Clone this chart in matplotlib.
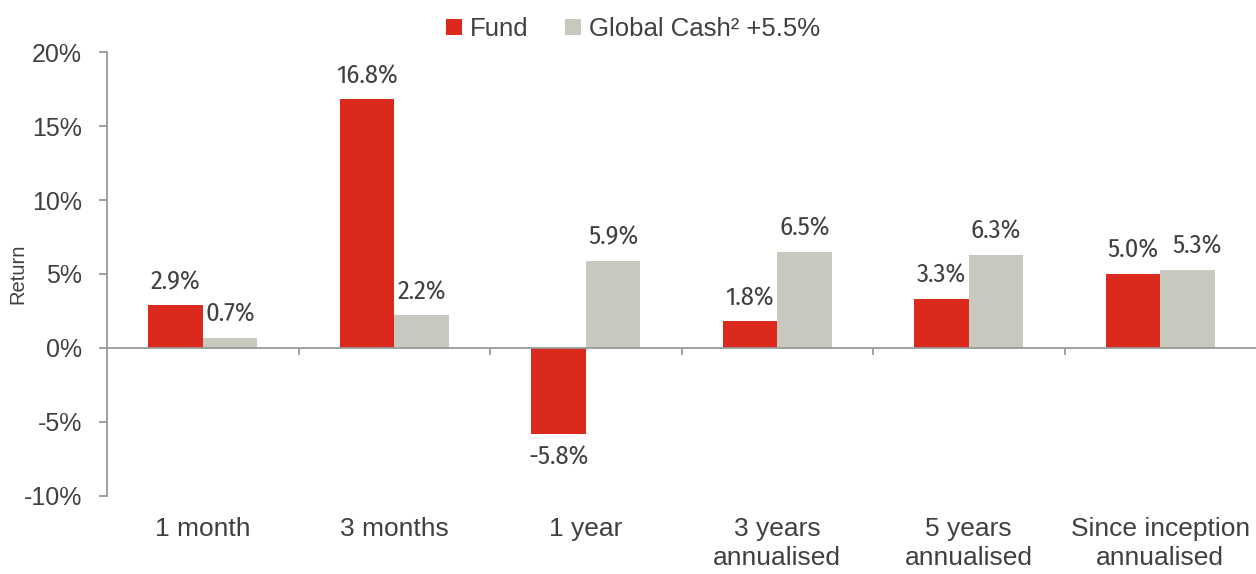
import matplotlib.pyplot as plt
import numpy as np
from matplotlib.ticker import FuncFormatter, FixedLocator

plt.rcParams['font.family'] = ['Liberation Sans', 'DejaVu Sans']

# data
periods = ["1 month", "3 months", "1 year", "3 years\nannualised", "5 years\nannualised", "Since inception\nannualised"]
fund = [2.9, 16.8, -5.8, 1.8, 3.3, 5.0]
cash = [0.7, 2.2, 5.9, 6.5, 6.3, 5.3]
series_names = ["Fund", "Global Cash² +5.5%"]

RED = "#DC291E"
GREY = "#C8C8BE"
TXT = "#404040"
AXC = "#999999"

fig = plt.figure(figsize=(12.56, 5.74), dpi=100)
ax = fig.add_axes([0.0852, 0.1359, 0.9148, 0.7735])

x = np.arange(len(periods))
w = 0.285
b1 = ax.bar(x - w / 2, fund, w, color=RED, label=series_names[0])
b2 = ax.bar(x + w / 2, cash, w, color=GREY, label=series_names[1])

# value labels use a narrow face like the original
fmt = lambda v: f"{v:.1f}%"
lab_font = dict(fontsize=19, color=TXT, fontweight="normal",
                family=['Fira Sans Condensed', 'Liberation Sans'])
ax.bar_label(b1, labels=[fmt(v) for v in fund], padding=8, **lab_font)
t2 = ax.bar_label(b2, labels=[fmt(v) for v in cash], padding=8, **lab_font)
t2[-1].xyann = (7, t2[-1].xyann[1])   # nudge last label off its neighbour

ax.set_xlim(-0.5, len(periods) - 0.5)
ax.set_ylim(-10, 20)
ax.set_yticks(np.arange(-10, 21, 5))
ax.yaxis.set_major_formatter(FuncFormatter(lambda v, p: f"{v:.0f}%"))

# bottom spine sits on zero, separators as minor ticks
for s in ["top", "right"]:
    ax.spines[s].set_visible(False)
ax.spines["bottom"].set_position(("data", 0))
ax.spines["bottom"].set_color(AXC)
ax.spines["left"].set_color(AXC)
ax.spines["bottom"].set_linewidth(1.3)
ax.spines["left"].set_linewidth(1.3)

ax.set_xticks(x)
ax.set_xticklabels(periods, fontsize=19, color=TXT, linespacing=1.24)
ax.xaxis.set_minor_locator(FixedLocator(np.arange(0.5, len(periods) - 0.5, 1)))
ax.tick_params(axis="x", which="major", length=0, pad=122)
ax.tick_params(axis="x", which="minor", length=5, width=1.3, color=AXC, direction="out")
ax.tick_params(axis="y", length=6, width=1.3, color=AXC, labelsize=18, labelcolor=TXT, pad=12)

ax.set_ylabel("Return", fontsize=14.5, color=TXT)
ax.yaxis.set_label_coords(-0.069, 0.5)

fig.legend(loc="upper center", bbox_to_anchor=(0.504, 1.01), ncol=2, frameon=False,
           fontsize=18.5, labelcolor=TXT, handlelength=0.6, handleheight=0.6,
           handletextpad=0.3, columnspacing=1.45)

fig.savefig("out.png", dpi=100)
